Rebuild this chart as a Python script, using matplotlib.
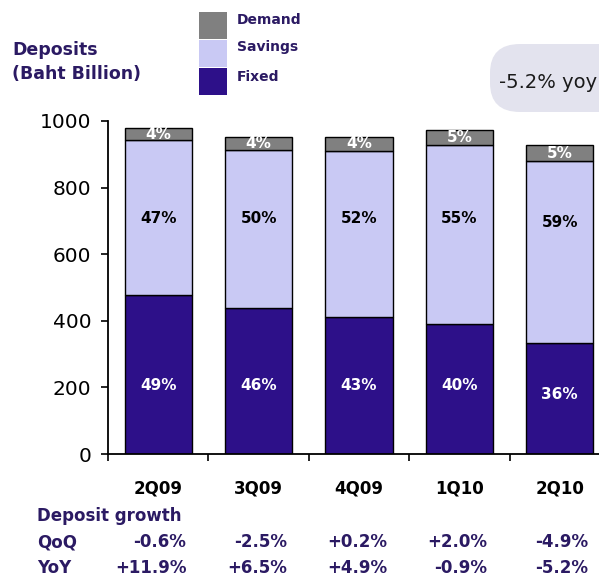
import matplotlib
matplotlib.use("Agg")
import matplotlib.pyplot as plt
from matplotlib.patches import Rectangle, FancyBboxPatch
from matplotlib import transforms

# Deposits by type, Baht billion
quarters = ["2Q09", "3Q09", "4Q09", "1Q10", "2Q10"]
fixed = [478, 438, 412, 390, 333]
savings = [464, 475, 499, 537, 547]
demand = [36, 40, 42, 47, 47]

# deposit growth, %
qoq = [-0.6, -2.5, 0.2, 2.0, -4.9]
yoy = [11.9, 6.5, 4.9, -0.9, -5.2]

FIXED_C = "#2d1089"
SAVINGS_C = "#c9c9f4"
DEMAND_C = "#808080"
TEXT_C = "#2b1a63"

W, H = 599, 579
fig = plt.figure(figsize=(W / 100, H / 100), dpi=100)

def px(x, y):
    return x / W, 1 - y / H

ax = fig.add_axes([108 / W, (H - 454) / H, 502 / W, 333 / H])
x = list(range(len(quarters)))
bw = 0.67
ax.bar(x, fixed, bw, color=FIXED_C, edgecolor="black", linewidth=1)
ax.bar(x, savings, bw, bottom=fixed, color=SAVINGS_C, edgecolor="black", linewidth=1)
tops = [f + s for f, s in zip(fixed, savings)]
ax.bar(x, demand, bw, bottom=tops, color=DEMAND_C, edgecolor="black", linewidth=1)

ax.set_xlim(-0.5, 4.5)
ax.set_ylim(0, 1000)
ax.spines[["top", "right"]].set_visible(False)
ax.spines["left"].set_linewidth(1.3)
ax.spines["bottom"].set_linewidth(1.3)
ax.spines["bottom"].set_bounds(-0.5, 4.5)

ax.set_yticks(range(0, 1001, 200))
ax.tick_params(axis="y", length=5, width=1.2, pad=7, labelsize=14.5)
ax.set_xticks(x)
ax.set_xticklabels(quarters, fontweight="bold", fontsize=12)
ax.tick_params(axis="x", which="major", length=0, pad=18)
ax.set_xticks([i - 0.5 for i in range(len(quarters) + 1)], minor=True)
ax.tick_params(axis="x", which="minor", length=5, width=1.2)

# share labels inside the segments
fixed_ly = [205, 205, 205, 205, 180]
sav_ly = [708, 708, 708, 708, 696]
for i in x:
    tot = fixed[i] + savings[i] + demand[i]
    ax.text(i, fixed_ly[i], f"{round(100 * fixed[i] / tot)}%", ha="center", va="center",
            color="white", fontsize=11, fontweight="bold")
    ax.text(i, sav_ly[i], f"{round(100 * savings[i] / tot)}%", ha="center", va="center",
            color="black", fontsize=11, fontweight="bold")
    ax.text(i, tops[i] + demand[i] / 2, f"{round(100 * demand[i] / tot)}%", ha="center",
            va="center", color="white", fontsize=11, fontweight="bold")

# growth table under the chart
tr = transforms.blended_transform_factory(ax.transData, fig.transFigure)
fig.text(*px(37, 516), "Deposit growth", color=TEXT_C, fontsize=12, fontweight="bold", va="center")
fig.text(*px(37, 542), "QoQ", color=TEXT_C, fontsize=12, fontweight="bold", va="center")
fig.text(*px(37, 568), "YoY", color=TEXT_C, fontsize=12, fontweight="bold", va="center")
for i in x:
    ax.text(i + 0.28, 1 - 542 / H, f"{qoq[i]:+.1f}%", transform=tr, ha="right", va="center",
            color=TEXT_C, fontsize=12, fontweight="bold")
    ax.text(i + 0.28, 1 - 568 / H, f"{yoy[i]:+.1f}%", transform=tr, ha="right", va="center",
            color=TEXT_C, fontsize=12, fontweight="bold")

# axis title
fig.text(*px(12, 62), "Deposits\n(Baht Billion)", color=TEXT_C, fontsize=12.5,
         fontweight="bold", va="center", linespacing=1.45)

# legend swatches
for name, col, top, ty in [("Demand", DEMAND_C, 12, 20), ("Savings", SAVINGS_C, 40, 47),
                           ("Fixed", FIXED_C, 68, 77)]:
    fig.add_artist(Rectangle(px(199, top + 27), 28 / W, 27 / H, transform=fig.transFigure,
                             facecolor=col, edgecolor="none"))
    fig.text(*px(237, ty), name, color=TEXT_C, fontsize=10, fontweight="bold", va="center")

# yoy callout
fig.add_artist(FancyBboxPatch(px(490, 112), 150 / W, 68 / H, transform=fig.transFigure,
                              boxstyle="round,pad=0,rounding_size=0.05",
                              facecolor="#e3e3ee", edgecolor="none"))
fig.text(*px(499, 83), "-5.2% yoy", color="#1a1a1a", fontsize=14, va="center")

fig.savefig("out.png", dpi=100)
